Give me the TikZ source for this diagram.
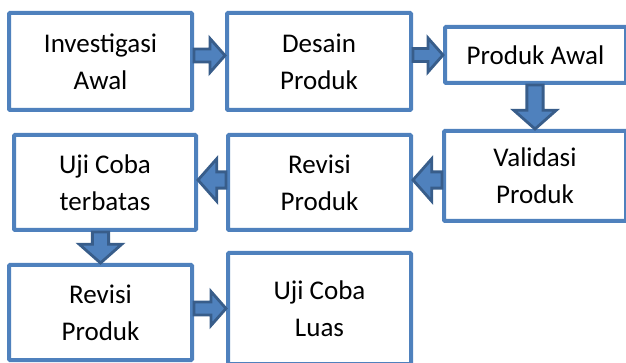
\documentclass[tikz,border=0pt]{standalone}
\usepackage{fontspec}
\setmainfont{Carlito}
\usetikzlibrary{calc}

\definecolor{boxblue}{RGB}{79,129,189}
\definecolor{arrowdark}{RGB}{56,93,138}

\tikzset{
  stagebox/.style={draw=boxblue, line width=4pt, fill=white, rounded corners=1pt,
    align=center, inner sep=0pt, font=\fontsize{27}{37}\selectfont},
  blockarr/.style={fill=boxblue, draw=arrowdark, line width=2.8pt}
}

% block arrow from #1 to #2, size factor #3
\newcommand{\blockarrow}[3]{%
  \coordinate (ba-s) at (#1);
  \coordinate (ba-e) at (#2);
  \pgfmathsetmacro\bashaft{6.5*#3}
  \pgfmathsetmacro\bahead{17*#3}
  \pgfmathsetmacro\balen{15*#3}
  \coordinate (ba-c) at ($(ba-e)!\balen pt!(ba-s)$);
  \draw[blockarr] ($(ba-s)!\bashaft pt!90:(ba-e)$) -- ($(ba-c)!\bashaft pt!90:(ba-e)$)
    -- ($(ba-c)!\bahead pt!90:(ba-e)$) -- (ba-e)
    -- ($(ba-c)!\bahead pt!-90:(ba-e)$) -- ($(ba-c)!\bashaft pt!-90:(ba-e)$)
    -- ($(ba-s)!\bashaft pt!-90:(ba-e)$) -- cycle;
}

\begin{document}
\begin{tikzpicture}[x=1pt, y=-1pt]
\useasboundingbox (0,0) rectangle (626,363);
\clip (0,0) rectangle (626,363);

% Row 1
\node[stagebox, minimum width=183pt, minimum height=97pt] (inv) at (100.5,61.5) {Investigasi\\Awal};
\node[stagebox, minimum width=184pt, minimum height=97pt] (des) at (319,61.5) {Desain\\Produk};
\node[stagebox, minimum width=181pt, minimum height=56pt] (pa) at (535.5,55) {Produk Awal};

% Row 2
\node[stagebox, minimum width=182pt, minimum height=90pt] (val) at (535,176) {Validasi\\Produk};
\node[stagebox, minimum width=183pt, minimum height=95pt] (rev) at (319.5,182.5) {Revisi\\Produk};
\node[stagebox, minimum width=182pt, minimum height=95pt] (ujit) at (105,182.5) {Uji Coba\\terbatas};

% Row 3
\node[stagebox, minimum width=183pt, minimum height=95pt] (revb) at (100.5,312.5) {Revisi\\Produk};
\node[stagebox, minimum width=183pt, minimum height=111pt] (ujil) at (319.5,308.5) {Uji Coba\\Luas};

% Arrows
\blockarrow{[yshift=6pt]inv.east}{[yshift=6pt]des.west}{1}
\blockarrow{des.east |- pa.west}{pa.west}{1}
\blockarrow{val.north |- pa.south}{val.north}{1.25}
\blockarrow{[yshift=-4pt]val.west}{[yshift=2.5pt]rev.east}{1.25}
\blockarrow{[yshift=2.5pt]rev.west}{[yshift=2.5pt]ujit.east}{1.25}
\blockarrow{revb.north |- ujit.south}{revb.north}{1.25}
\blockarrow{revb.east |- ujil.west}{ujil.west}{1}

\end{tikzpicture}
\end{document}
